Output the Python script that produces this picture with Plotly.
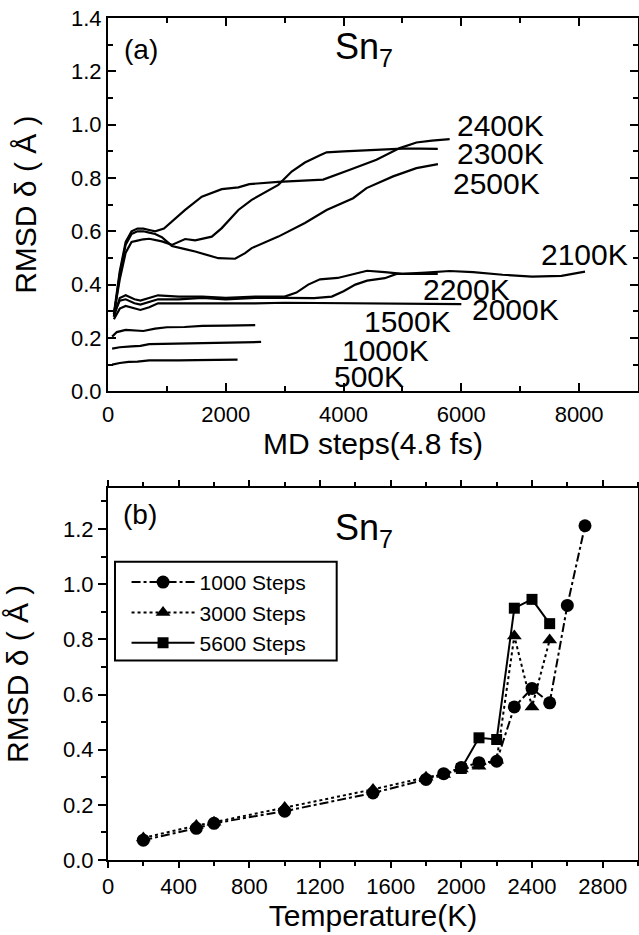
import plotly.graph_objects as go

# ---------------- panel (a): RMSD vs MD steps ----------------
steps_500 = [70, 200, 350, 500, 700, 900, 1200, 1500, 1800, 2000, 2200]
rmsd_500 = [0.100, 0.106, 0.110, 0.111, 0.116, 0.117, 0.116, 0.117, 0.118, 0.118, 0.119]

steps_1000 = [70, 200, 400, 550, 700, 900, 1200, 1600, 2000, 2300, 2600]
rmsd_1000 = [0.160, 0.165, 0.168, 0.170, 0.177, 0.178, 0.178, 0.180, 0.182, 0.183, 0.185]

steps_1500 = [70, 150, 300, 450, 600, 800, 1000, 1300, 1600, 2000, 2500]
rmsd_1500 = [0.205, 0.222, 0.230, 0.229, 0.226, 0.235, 0.240, 0.241, 0.245, 0.246, 0.248]

steps_2000 = [100, 200, 300, 450, 550, 700, 850, 1200, 1600, 2000, 2500, 3000, 4000, 5000, 6000]
rmsd_2000 = [0.27, 0.31, 0.32, 0.31, 0.305, 0.315, 0.33, 0.33, 0.33, 0.328, 0.33, 0.332, 0.33, 0.328, 0.327]

steps_2100 = [100, 200, 300, 450, 550, 700, 850, 1200, 1600, 2000, 2500, 3000, 3200, 3400,
              3600, 3900, 4200, 4400, 4700, 5000, 5400, 5800, 6200, 6700, 7200, 7700, 8100]
rmsd_2100 = [0.28, 0.35, 0.36, 0.345, 0.34, 0.35, 0.36, 0.355, 0.355, 0.35, 0.355, 0.355, 0.37, 0.40,
             0.42, 0.425, 0.44, 0.452, 0.447, 0.44, 0.445, 0.451, 0.447, 0.437, 0.43, 0.433, 0.449]

steps_2200 = [100, 200, 300, 450, 550, 700, 850, 1200, 1600, 2000, 2500, 3000, 3500, 3800,
              4000, 4200, 4400, 4700, 4900, 5200, 5600]
rmsd_2200 = [0.29, 0.34, 0.345, 0.33, 0.325, 0.335, 0.345, 0.345, 0.35, 0.345, 0.35, 0.35, 0.349, 0.355,
             0.375, 0.40, 0.415, 0.424, 0.44, 0.44, 0.44]

steps_2300 = [100, 200, 300, 400, 500, 600, 700, 800, 915, 1085, 1310, 1480, 1763, 1932, 2214,
              2440, 2892, 3119, 3344, 3600, 3712, 4000, 4500, 5000, 5300, 5600]
rmsd_2300 = [0.29, 0.42, 0.52, 0.56, 0.565, 0.57, 0.572, 0.568, 0.562, 0.549, 0.571, 0.566, 0.58, 0.612, 0.68,
             0.718, 0.774, 0.824, 0.858, 0.885, 0.896, 0.90, 0.905, 0.91, 0.91, 0.909]

steps_2400 = [100, 200, 300, 400, 500, 600, 700, 800, 950, 1085, 1310, 1593, 1932, 2214, 2400,
              2892, 3300, 3654, 4107, 4559, 4954, 5237, 5500, 5802]
rmsd_2400 = [0.29, 0.45, 0.56, 0.60, 0.61, 0.61, 0.605, 0.60, 0.61, 0.637, 0.68, 0.73, 0.758, 0.765, 0.777,
             0.785, 0.79, 0.794, 0.831, 0.868, 0.912, 0.933, 0.94, 0.946]

steps_2500 = [100, 200, 300, 400, 500, 600, 700, 800, 915, 1085, 1310, 1480, 1875, 2158, 2328,
              2440, 2892, 3344, 3712, 4163, 4390, 4841, 5237, 5603]
rmsd_2500 = [0.28, 0.44, 0.55, 0.59, 0.60, 0.60, 0.595, 0.59, 0.578, 0.545, 0.533, 0.524, 0.499, 0.497, 0.518,
             0.537, 0.58, 0.631, 0.68, 0.724, 0.762, 0.806, 0.837, 0.852]

curves_a = [
    (steps_500, rmsd_500), (steps_1000, rmsd_1000), (steps_1500, rmsd_1500),
    (steps_2000, rmsd_2000), (steps_2100, rmsd_2100), (steps_2200, rmsd_2200),
    (steps_2300, rmsd_2300), (steps_2400, rmsd_2400), (steps_2500, rmsd_2500),
]

# temperature labels placed next to the curves (left edge step, RMSD)
label_text = ["2400K", "2300K", "2500K", "2100K", "2200K", "2000K", "1500K", "1000K", "500K"]
label_step = [5900, 5886, 5830, 7315, 5322, 6141, 4310, 3947, 3810]
label_rmsd = [0.995, 0.893, 0.781, 0.512, 0.383, 0.305, 0.26, 0.153, 0.055]

# ---------------- panel (b): RMSD vs temperature ----------------
temp_1000 = [200, 500, 600, 1000, 1500, 1800, 1900, 2000, 2100, 2200, 2300, 2400, 2500, 2600, 2700]
rmsd_s1000 = [0.072, 0.115, 0.133, 0.177, 0.243, 0.292, 0.313, 0.335, 0.353, 0.358,
              0.555, 0.622, 0.570, 0.923, 1.212]

temp_3000 = [200, 500, 600, 1000, 1500, 1800, 1900, 2000, 2100, 2200, 2300, 2400, 2500]
rmsd_s3000 = [0.080, 0.125, 0.137, 0.190, 0.256, 0.300, 0.310, 0.330, 0.340, 0.362,
              0.812, 0.555, 0.798]

temp_5600 = [2000, 2100, 2200, 2300, 2400, 2500]
rmsd_s5600 = [0.332, 0.443, 0.437, 0.913, 0.945, 0.857]

FONT = "Liberation Sans, Arial, sans-serif"
BLACK = "#000000"

fig = go.Figure()

for xs, ys in curves_a:
    fig.add_trace(go.Scatter(
        x=xs, y=ys, mode="lines", xaxis="x", yaxis="y",
        line=dict(color=BLACK, width=2.2), showlegend=False, hoverinfo="skip",
    ))

fig.add_trace(go.Scatter(
    x=temp_5600, y=rmsd_s5600, mode="lines+markers", name="5600 Steps",
    xaxis="x2", yaxis="y2",
    line=dict(color=BLACK, width=2, dash="solid"),
    marker=dict(symbol="square", size=11, color=BLACK, opacity=1,
                line=dict(width=0, color=BLACK)),
    legendrank=3,
))
fig.add_trace(go.Scatter(
    x=temp_1000, y=rmsd_s1000, mode="lines+markers", name="1000 Steps",
    xaxis="x2", yaxis="y2",
    line=dict(color=BLACK, width=2, dash="dashdot"),
    marker=dict(symbol="circle", size=13, color=BLACK, line=dict(width=0, color=BLACK)),
    legendrank=1,
))
fig.add_trace(go.Scatter(
    x=temp_3000, y=rmsd_s3000, mode="lines+markers", name="3000 Steps",
    xaxis="x2", yaxis="y2",
    line=dict(color=BLACK, width=2, dash="dot"),
    marker=dict(symbol="triangle-up", size=13, color=BLACK, line=dict(width=0, color=BLACK)),
    legendrank=2,
))

annotations = []
for t, sx, sy in zip(label_text, label_step, label_rmsd):
    annotations.append(dict(
        x=sx, y=sy, xref="x", yref="y", text=t, showarrow=False,
        xanchor="left", yanchor="middle", font=dict(family=FONT, size=30, color=BLACK),
    ))

# panel tags and cluster name
annotations += [
    dict(x=0.027, y=0.962, xref="paper", yref="paper", text="(a)", showarrow=False,
         xanchor="left", yanchor="middle", font=dict(family=FONT, size=28, color=BLACK)),
    dict(x=0.425, y=0.963, xref="paper", yref="paper", text="Sn<sub>7</sub>", showarrow=False,
         xanchor="left", yanchor="middle", font=dict(family=FONT, size=36, color=BLACK)),
    dict(x=0.024, y=0.410, xref="paper", yref="paper", text="(b)", showarrow=False,
         xanchor="left", yanchor="middle", font=dict(family=FONT, size=28, color=BLACK)),
    dict(x=0.425, y=0.392, xref="paper", yref="paper", text="Sn<sub>7</sub>", showarrow=False,
         xanchor="left", yanchor="middle", font=dict(family=FONT, size=36, color=BLACK)),
]

axis_common = dict(
    showline=True, linewidth=2, linecolor=BLACK, mirror="ticks", automargin=False,
    showgrid=False, zeroline=False, tickcolor=BLACK, tickwidth=1.5,
    tickfont=dict(family=FONT, size=22, color=BLACK),
)
TITLE_FONT = dict(family=FONT, size=30, color=BLACK)

fig.update_layout(
    width=639, height=935,
    margin=dict(l=108, r=1, t=18, b=75),
    paper_bgcolor="white", plot_bgcolor="white",
    font=dict(family=FONT, color=BLACK),
    xaxis=dict(
        domain=[0, 1], anchor="y", range=[0, 9000], dtick=2000, tick0=0,
        ticks="inside", ticklen=8, ticklabelstandoff=2,
        minor=dict(dtick=1000, ticks="inside", ticklen=5, tickcolor=BLACK, tickwidth=1.5),
        title=dict(text="MD steps(4.8 fs)", font=TITLE_FONT, standoff=4),
        **axis_common,
    ),
    yaxis=dict(
        domain=[0.5567, 1.0], anchor="x", range=[0, 1.4], dtick=0.2, tick0=0, tickformat=".1f",
        ticks="inside", ticklen=8,
        minor=dict(dtick=0.1, ticks="inside", ticklen=5, tickcolor=BLACK, tickwidth=1.5),
        title=dict(text="RMSD δ ( Å )", font=TITLE_FONT, standoff=26),
        **axis_common,
    ),
    xaxis2=dict(
        domain=[0, 1], anchor="y2", range=[0, 3000], dtick=400, tick0=0,
        ticks="outside", ticklen=6,
        minor=dict(dtick=200, ticks="outside", ticklen=4, tickcolor=BLACK, tickwidth=1.5),
        title=dict(text="Temperature(K)", font=TITLE_FONT, standoff=2),
        **axis_common,
    ),
    yaxis2=dict(
        domain=[0, 0.4422], anchor="x2", range=[0, 1.35], dtick=0.2, tick0=0, tickformat=".1f",
        ticks="outside", ticklen=8,
        minor=dict(dtick=0.1, ticks="outside", ticklen=5, tickcolor=BLACK, tickwidth=1.5),
        title=dict(text="RMSD δ ( Å )", font=TITLE_FONT, standoff=26),
        **axis_common,
    ),
    legend=dict(
        x=0.035, y=0.354, xanchor="left", yanchor="top",
        bgcolor="rgba(0,0,0,0)", borderwidth=0,
        font=dict(family=FONT, size=21, color=BLACK),
        itemwidth=63, tracegroupgap=0,
    ),
    annotations=annotations,
    shapes=[
        dict(type="rect", xref="paper", yref="paper",
             x0=0.0132, x1=0.4315, y0=0.2368, y1=0.3543,
             line=dict(color=BLACK, width=2), fillcolor="rgba(0,0,0,0)"),
    ],
)

fig.write_html("out.html")
